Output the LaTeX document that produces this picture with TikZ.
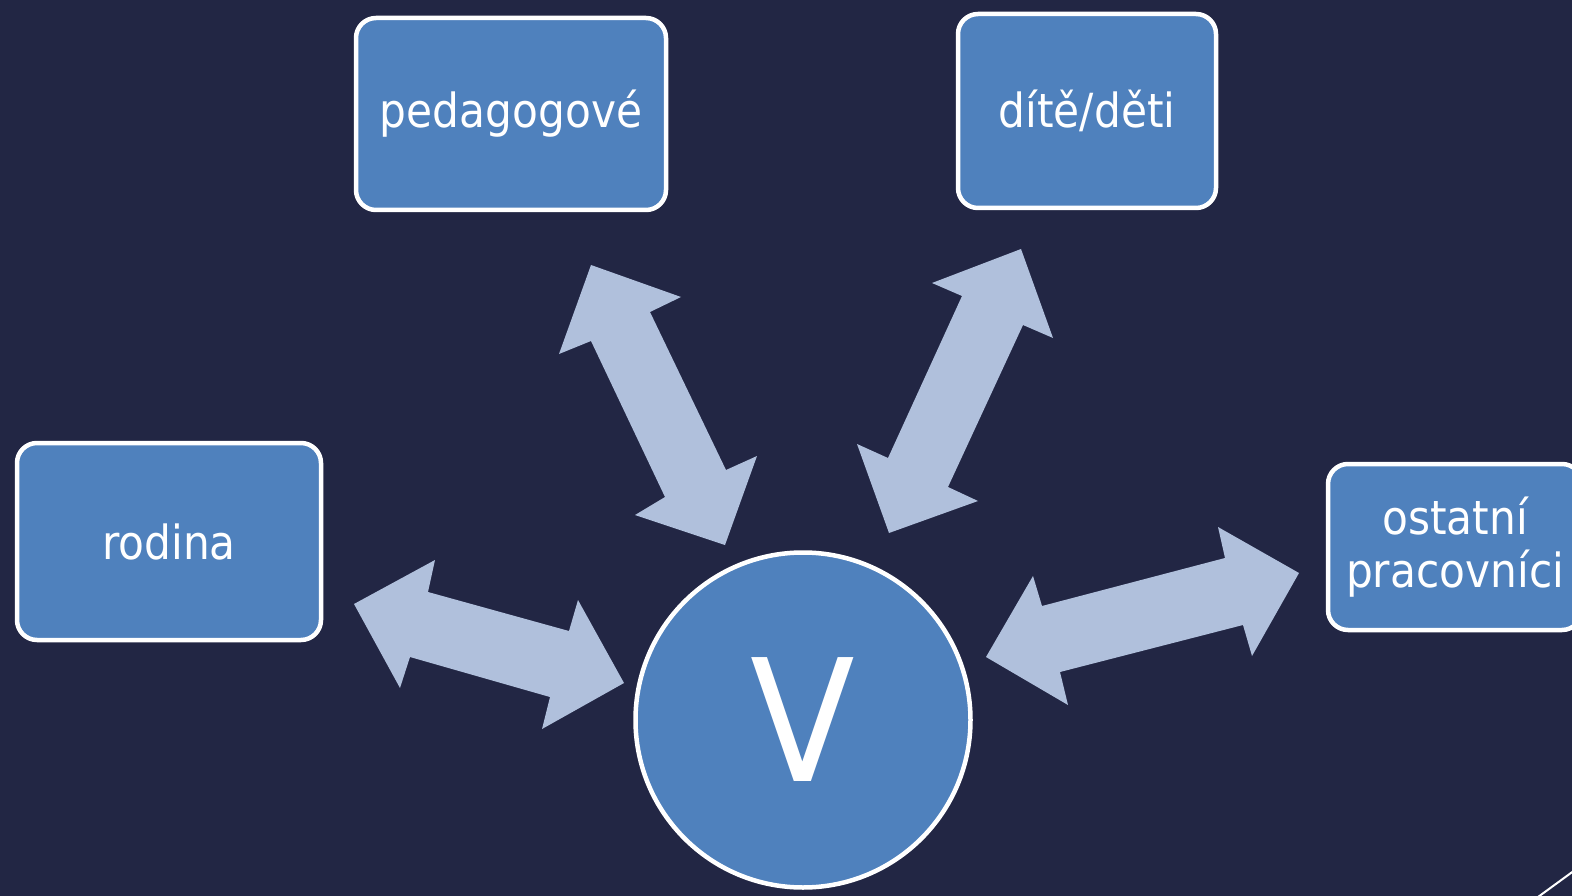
\documentclass[tikz,border=0pt]{standalone}
\usepackage{fontspec}
\setmainfont[FakeStretch=0.9]{DejaVu Sans}
\definecolor{bg}{RGB}{34,38,68}
\definecolor{boxblue}{RGB}{79,129,189}
\definecolor{arrowblue}{RGB}{176,192,220}
\begin{document}
\begin{tikzpicture}[x=1pt,y=-1pt,
  boxnode/.style={draw=white,line width=4.5pt,fill=boxblue,rounded corners=20pt,text=white,
    font=\fontsize{47}{54}\selectfont,align=center,inner sep=0pt},
  arr/.style={fill=arrowblue,draw=none}]
\useasboundingbox (0,0) rectangle (1572,896);
\clip (0,0) rectangle (1572,896);
\fill[bg] (0,0) rectangle (1572,896);
% arrows
\fill[arr] (591,265) -- (681,297) -- (650,312) -- (726,470) -- (757,456) -- (725,545) -- (635,515) -- (665,497) -- (591,341) -- (559,354) -- cycle;
\fill[arr] (1021,249) -- (1053,338) -- (1023,325) -- (948,487) -- (978,501) -- (889,533) -- (857,444) -- (888,458) -- (962,296) -- (932,283) -- cycle;
\fill[arr] (354,604) -- (435,560) -- (428,592) -- (569,631) -- (578,600) -- (624,683) -- (542,729) -- (550,697) -- (410,657) -- (400,688) -- cycle;
\fill[arr] (986,657) -- (1033,576) -- (1042,606) -- (1225,558) -- (1218,527) -- (1299,573) -- (1252,656) -- (1243,625) -- (1060,672) -- (1068,705) -- cycle;
% boxes
\node[boxnode,minimum width=310pt,minimum height=192pt] (ped) at (511,114) {pedagogové};
\node[boxnode,minimum width=258pt,minimum height=194pt] (dite) at (1087,111) {dítě/děti};
\node[boxnode,minimum width=304pt,minimum height=197pt] (rod) at (169,541.5) {rodina};
\node[boxnode,minimum width=254pt,minimum height=166pt] (ost) at (1455,547) {ostatní\\[-1pt]pracovníci};
\node[circle,draw=white,line width=4.5pt,fill=boxblue,minimum size=335pt,text=white,
  font=\fontsize{170}{170}\selectfont,inner sep=0pt] (v) at (803,720) {V};
% slide decoration
\draw[white,line width=2pt] (1538,897) -- (1575,870);
\end{tikzpicture}
\end{document}
